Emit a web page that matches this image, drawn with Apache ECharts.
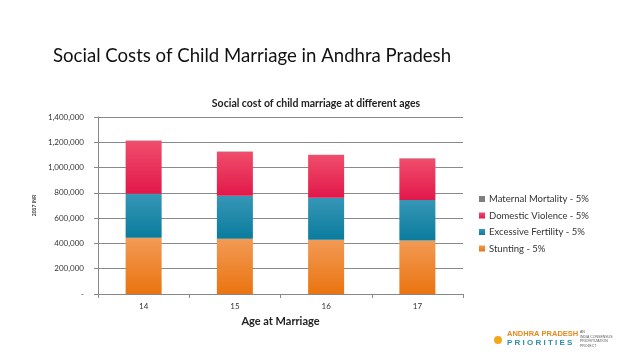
<!DOCTYPE html>
<html><head><meta charset="utf-8">
<script src="https://cdn.jsdelivr.net/npm/echarts@6/dist/echarts.min.js"></script>
<style>html,body{margin:0;padding:0;background:#fff}#c{width:638px;height:359px}</style>
</head><body><div id="c"></div>
<script>
const categories = ['14', '15', '16', '17'];
const stunting = [445000, 437000, 429000, 424000];
const excessiveFertility = [348000, 340000, 332000, 319000];
const domesticViolence = [419000, 348000, 338000, 329000];
const maternalMortality = [1500, 1500, 1500, 1500];
const yTicks = [0, 200000, 400000, 600000, 800000, 1000000, 1200000, 1400000];

function grad(top, bottom) {
  return new echarts.graphic.LinearGradient(0, 0, 0, 1, [{offset: 0, color: top}, {offset: 1, color: bottom}]);
}
const chart = echarts.init(document.getElementById('c'));
const fontF = 'Lato, "Open Sans", sans-serif';
chart.setOption({
  animation: false,
  textStyle: {fontFamily: fontF},
  title: [
    {text: 'Social Costs of Child Marriage in Andhra Pradesh', left: 48, top: 41,
     textStyle: {fontSize: 18.6, fontWeight: 'normal', color: '#111', fontFamily: fontF}},
    {text: 'Social cost of child marriage at different ages', left: 311, top: 93, textAlign: 'center',
     textStyle: {fontSize: 10.5, fontWeight: 'bold', color: '#222', fontFamily: fontF}}
  ],
  legend: {
    orient: 'vertical', left: 474, top: 189, itemWidth: 6, itemHeight: 6, itemGap: 6.5,
    icon: 'rect',
    textStyle: {fontSize: 9.5, color: '#333', fontFamily: fontF, padding: [0, 0, 0, -1]},
    data: ['Maternal Mortality - 5%', 'Domestic Violence - 5%', 'Excessive Fertility - 5%', 'Stunting - 5%']
  },
  grid: {left: 98, right: 175, top: 117, bottom: 65},
  xAxis: {
    type: 'category', data: categories,
    name: 'Age at Marriage', nameLocation: 'middle', nameGap: 22,
    nameTextStyle: {fontSize: 11, fontWeight: 'bold', color: '#222'},
    axisLine: {lineStyle: {color: '#888'}},
    axisTick: {show: true, length: 4, lineStyle: {color: '#888'}},
    axisLabel: {fontSize: 8, color: '#333', margin: 8}
  },
  yAxis: {
    type: 'value', min: 0, max: 1400000, interval: 200000,
    name: '2017 INR', nameLocation: 'middle', nameGap: 52, nameRotate: 90,
    nameTextStyle: {fontSize: 5, fontWeight: 'bold', color: '#333'},
    axisLine: {show: true, lineStyle: {color: '#888'}},
    axisTick: {show: true, length: 4, lineStyle: {color: '#888'}},
    splitLine: {lineStyle: {color: '#8a8a8a'}},
    axisLabel: {fontSize: 8, color: '#333', margin: 14,
      formatter: v => v === 0 ? '-' : v.toLocaleString('en-US')}
  },
  series: [
    {name: 'Stunting - 5%', type: 'bar', stack: 's', data: stunting, barWidth: 36,
     itemStyle: {color: grad('#f29a55', '#ea7410')}},
    {name: 'Excessive Fertility - 5%', type: 'bar', stack: 's', data: excessiveFertility,
     itemStyle: {color: grad('#3796b6', '#0a7c9e')}},
    {name: 'Domestic Violence - 5%', type: 'bar', stack: 's', data: domesticViolence,
     itemStyle: {color: grad('#f04d6c', '#e1184a')}},
    {name: 'Maternal Mortality - 5%', type: 'bar', stack: 's', data: maternalMortality,
     itemStyle: {color: '#7f7f7f'}}
  ],
  graphic: [
    {type: 'text', left: 507, top: 330, style: {text: 'ANDHRA PRADESH', fontSize: 7.5, fontWeight: 'bold', fill: '#e8891c', fontFamily: 'Liberation Sans, sans-serif'}},
    {type: 'text', left: 507, top: 339, style: {text: 'P R I O R I T I E S', fontSize: 8, fontWeight: 'bold', fill: '#2d8fa8', fontFamily: 'Liberation Sans, sans-serif'}},
    {type: 'text', left: 580, top: 330, style: {text: 'AN\nINDIA CONSENSUS\nPRIORITIZATION\nPROJECT', fontSize: 3.5, lineHeight: 4.5, fill: '#555'}},
    {type: 'circle', shape: {cx: 498, cy: 340, r: 4}, style: {fill: '#f2a81d'}}
  ]
});
</script></body></html>
